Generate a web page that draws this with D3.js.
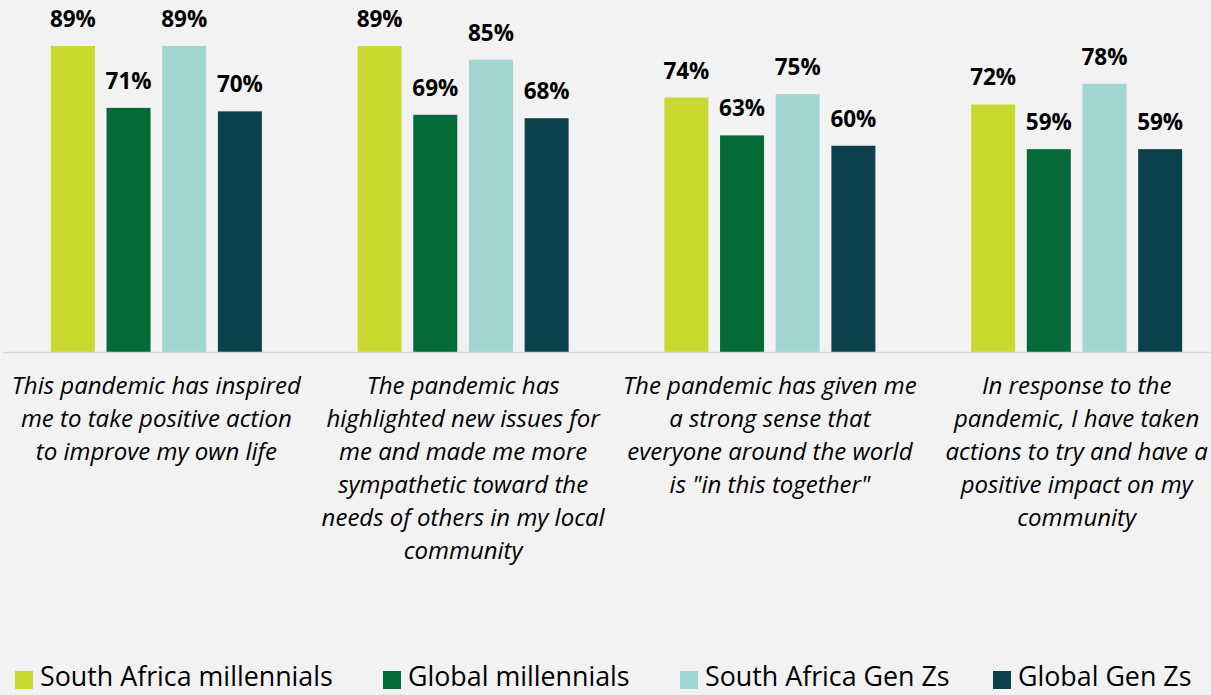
<!DOCTYPE html>
<html><head><meta charset="utf-8">
<script src="https://cdn.jsdelivr.net/npm/d3@7"></script>
<style>
html,body{margin:0;padding:0;background:#f2f2f2;}
svg{display:block;font-family:"Open Sans",Lato,sans-serif;}
</style></head>
<body><svg id="chart" width="1211" height="695"></svg>
<script>
const categories = [
  ["This pandemic has inspired","me to take positive action","to improve my own life"],
  ["The pandemic has","highlighted new issues for","me and made me more","sympathetic toward the","needs of others in my local","community"],
  ["The pandemic has given me","a strong sense that","everyone around the world","is \"in this together\""],
  ["In response to the","pandemic, I have taken","actions to try and have a","positive impact on my","community"]
];
const seriesNames = ["South Africa millennials","Global millennials","South Africa Gen Zs","Global Gen Zs"];
const saMillennials = [89, 89, 74, 72];
const globalMillennials = [71, 69, 63, 59];
const saGenZ = [89, 85, 75, 78];
const globalGenZ = [70, 68, 60, 59];
const seriesValues = [saMillennials, globalMillennials, saGenZ, globalGenZ];
const colors = ["#c9d92f","#046a38","#a0d5d1","#0a414a"];

const svg = d3.select("#chart");
const W = 1211, H = 695;
svg.append("rect").attr("width",W).attr("height",H).attr("fill","#f2f2f2");

const baseY = 352;
const groupW = 211;
const x0 = d3.scaleBand().domain(d3.range(categories.length)).range([3, 1230]).paddingInner(0).paddingOuter(0);
const x1 = d3.scaleBand().domain(d3.range(seriesNames.length)).range([0, groupW]).paddingInner(0.21).paddingOuter(0);
const y = d3.scaleLinear().domain([0,100]).range([baseY, baseY - 343.8]);

const groups = svg.selectAll("g.grp").data(categories).join("g")
  .attr("class","grp")
  .attr("transform",(d,i)=>`translate(${x0(i) + x0.bandwidth()/2 - groupW/2},0)`);

seriesNames.forEach((s, si) => {
  groups.append("rect")
    .attr("x", x1(si))
    .attr("width", x1.bandwidth())
    .attr("y", (d,i)=>y(seriesValues[si][i]))
    .attr("height", (d,i)=>baseY - y(seriesValues[si][i]))
    .attr("fill", colors[si]);
  groups.append("text")
    .attr("x", x1(si) + x1.bandwidth()/2)
    .attr("y", (d,i)=>y(seriesValues[si][i]) - 19)
    .attr("text-anchor","middle")
    .attr("font-weight","bold")
    .attr("font-size", 22.5)
    .attr("fill","#000")
    .text((d,i)=>seriesValues[si][i] + "%");
});

svg.append("line").attr("x1",3).attr("x2",W).attr("y1",baseY+0.5).attr("y2",baseY+0.5)
  .attr("stroke","#d9d9d9").attr("stroke-width",1.5);

groups.each(function(lines, i){
  const t = d3.select(this).append("text")
    .attr("text-anchor","middle")
    .attr("font-style","italic")
    .attr("font-size",24)
    .attr("fill","#000");
  lines.forEach((ln, li) => {
    t.append("tspan").attr("x",groupW/2).attr("y", 394 + li*33).text(ln);
  });
});

// legend
const legendX = [15, 383, 680, 993];
const leg = svg.selectAll("g.leg").data(seriesNames).join("g").attr("class","leg")
  .attr("transform",(d,i)=>`translate(${legendX[i]},0)`);
leg.append("rect").attr("x",0).attr("y",671).attr("width",18).attr("height",18).attr("fill",(d,i)=>colors[i]);
leg.append("text").attr("x",25).attr("y",686).attr("font-size",26.8).attr("fill","#000").text(d=>d);
</script>
</body></html>
